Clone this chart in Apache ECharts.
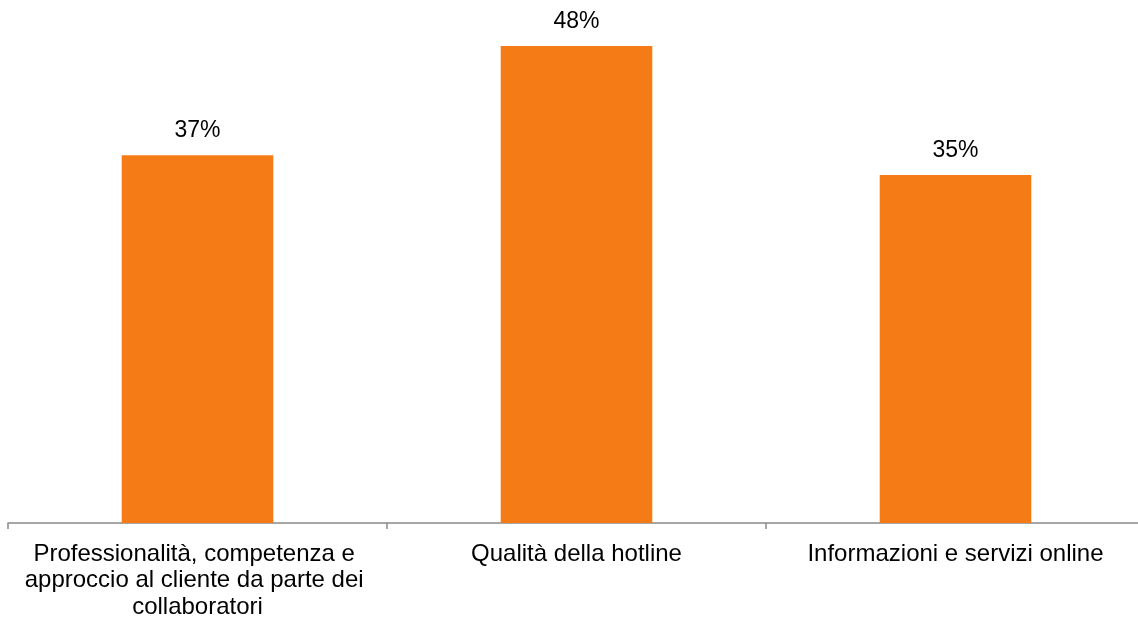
<!DOCTYPE html>
<html>
<head>
<meta charset="utf-8">
<style>
  html, body { margin: 0; padding: 0; background: #ffffff; }
  #chart { width: 1138px; height: 617px; }
</style>
<script src="https://cdn.jsdelivr.net/npm/echarts@6/dist/echarts.min.js"></script>
</head>
<body>
<div id="chart"></div>
<script>
// Categories and percentage values
const categories = [
  'Professionalità, competenza e approccio al cliente da parte dei collaboratori',
  'Qualità della hotline',
  'Informazioni e servizi online'
];
const values = [37, 48, 35];

const chart = echarts.init(document.getElementById('chart'));

chart.setOption({
  animation: false,
  backgroundColor: '#ffffff',
  grid: { left: 8, right: -7, top: 26, bottom: 94, outerBoundsMode: 'none', containLabel: false },
  xAxis: {
    type: 'category',
    data: categories,
    boundaryGap: true,
    axisLine: { show: true, lineStyle: { color: '#898989', width: 1.5 } },
    axisTick: { show: true, length: 6, lineStyle: { color: '#898989', width: 1.5 } },
    axisLabel: {
      interval: 0,
      margin: 18,
      color: '#000000',
      fontFamily: 'Liberation Sans, Arial, sans-serif',
      fontSize: 24,
      lineHeight: 26.5,
      width: 350,
      overflow: 'break',
      align: 'center'
    }
  },
  yAxis: {
    type: 'value',
    min: 0,
    max: 50,
    show: false,
    splitLine: { show: false }
  },
  series: [{
    type: 'bar',
    data: values,
    barWidth: '40%',
    itemStyle: { color: '#F47B16' },
    label: {
      show: true,
      position: 'top',
      distance: 13,
      color: '#000000',
      fontFamily: 'Liberation Sans, Arial, sans-serif',
      fontSize: 23,
      formatter: p => p.value + '%'
    }
  }]
});
</script>
</body>
</html>
